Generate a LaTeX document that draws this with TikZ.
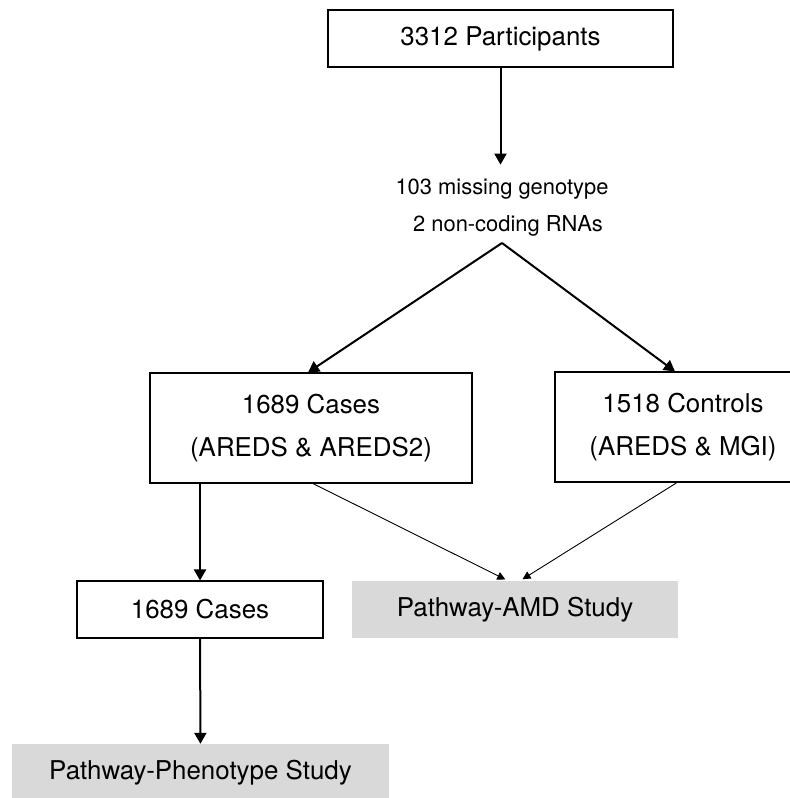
\documentclass[tikz,border=0pt]{standalone}
\usepackage{fontspec}
\setmainfont{TeX Gyre Heros}
\usetikzlibrary{arrows.meta}
\usetikzlibrary{positioning}

\begin{document}
\begin{tikzpicture}[
    x=1bp, y=-1bp,
    box/.style={rectangle, draw=black, line width=1.1bp, align=center, inner sep=0,
        font=\fontsize{26}{44}\selectfont},
    study/.style={rectangle, fill=black!15, inner sep=0,
        font=\fontsize{26}{44}\selectfont},
    note/.style={inner sep=0, font=\fontsize{22}{26}\selectfont},
    flow/.style={-{Triangle[length=11bp, width=12bp]}, line width=2bp},
    merge/.style={-{Triangle[length=8bp, width=8bp]}, line width=0.9bp},
    ]
    \useasboundingbox (0,0) rectangle (790,798);

    \node (part) [box, minimum width=345bp, minimum height=57bp] at (500.5,38.5) {3312 Participants};
    \node (miss) [note] at (502,189) {103 missing genotype};
    \node (rna) [note] at (508,226) {2 non-coding RNAs};
    \coordinate (split) at (502,243);

    \node (cases) [box, minimum width=322bp, minimum height=110bp] at (311,428)
        {1689 Cases\\(AREDS \& AREDS2)};
    \node (ctrls) [box, minimum width=256bp, minimum height=110bp] at (683,427)
        {1518 Controls\\(AREDS \& MGI)};

    \node (sub) [box, minimum width=246bp, minimum height=57bp] at (200,609.5) {1689 Cases};
    \node (amd) [study, minimum width=326bp, minimum height=57bp] at (515,609.5) {Pathway-AMD Study};
    \node (pheno) [study, minimum width=377bp, minimum height=57bp] at (200.5,772.5) {Pathway-Phenotype Study};

    % thick arrows
    \draw [flow, shorten >=14bp] (part.south) -- (part.south |- miss.north);
    \draw [flow] (split) -- ([xshift=-3bp]cases.north);
    \draw [flow] (split) -- ([xshift=-8bp]ctrls.north);
    \draw [flow] (cases.south -| sub.north) -- (sub.north);
    \draw [flow] (sub) -- (pheno);

    % thin arrows into the study
    \draw [merge, shorten >=3bp] ([xshift=2bp]cases.south) -- ([xshift=-7bp]amd.north);
    \draw [merge, shorten >=3bp] ([xshift=-6bp]ctrls.south) -- ([xshift=5bp]amd.north);
\end{tikzpicture}
\end{document}
